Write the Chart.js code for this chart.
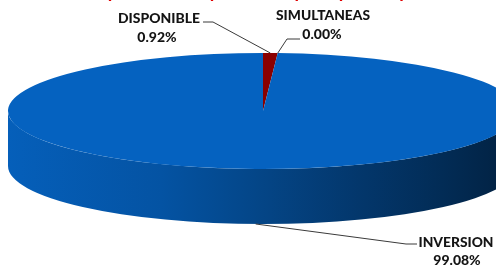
<!DOCTYPE html>
<html>
<head>
<meta charset="utf-8">
<script src="https://cdn.jsdelivr.net/npm/chart.js@4.4.1/dist/chart.umd.min.js"></script>
<style>
  html, body { margin: 0; padding: 0; background: #fff; overflow: hidden; }
  #wrap { width: 496px; height: 267px; position: relative; }
</style>
</head>
<body>
<div id="wrap"><canvas id="pie"></canvas></div>
<script>
// datos del grafico
const labels = ['DISPONIBLE', 'SIMULTANEAS', 'INVERSION'];
const values = [0.92, 0.00, 99.08];
const colors = ['#8a0000', '#8a0000', '#0562c0'];
const chartTitle = 'Composición del portafolio por tipo de operación';

// aspecto 3D
const faceY = 111;      // centro de la cara superior
const tilt = 58 / 255;  // aplastamiento vertical
const depth = 55;       // alto del costado

// posicion de las etiquetas: codo de la linea, texto
const labelPos = [
  { elbow: [213, 22], end: [203, 22], tx: 200, align: 'right', ty: 23, w: 82, px: 157, py: 42 },
  { elbow: [287, 39], end: [300, 39], tx: 323, align: 'center', ty: 20, w: 94, px: 322, py: 39 },
  { elbow: [406, 244], end: [417, 244], tx: 456, align: 'center', ty: 247, w: 75, px: 457, py: 265 }
];

function shade(hex, f) {
  const n = parseInt(hex.slice(1), 16);
  const r = Math.round(((n >> 16) & 255) * f);
  const g = Math.round(((n >> 8) & 255) * f);
  const b = Math.round((n & 255) * f);
  return `rgb(${r},${g},${b})`;
}

const pie3d = {
  id: 'pie3d',
  beforeDatasetsDraw(chart) {
    const ctx = chart.ctx;
    const arcs = chart.getDatasetMeta(0).data;
    const cx = arcs[0].x, cy = arcs[0].y, r = arcs[0].outerRadius;
    const ry = r * tilt;

    // costado: solo la mitad frontal (0..PI)
    arcs.forEach((arc, i) => {
      const s = Math.max(arc.startAngle, 0);
      const e = Math.min(arc.endAngle, Math.PI);
      if (e <= s) return;
      const grad = ctx.createLinearGradient(cx - r, 0, cx + r, 0);
      grad.addColorStop(0, shade(colors[i], 0.97));
      grad.addColorStop(0.3, shade(colors[i], 0.85));
      grad.addColorStop(0.5, shade(colors[i], 0.7));
      grad.addColorStop(0.7, shade(colors[i], 0.55));
      grad.addColorStop(0.85, shade(colors[i], 0.45));
      grad.addColorStop(1, shade(colors[i], 0.33));
      ctx.save();
      ctx.beginPath();
      ctx.ellipse(cx, faceY, r, ry, 0, s, e);
      ctx.ellipse(cx, faceY + depth, r, ry, 0, e, s, true);
      ctx.closePath();
      ctx.fillStyle = grad;
      ctx.fill();
      ctx.restore();
    });

    // cara superior aplastada
    ctx.save();
    ctx.translate(0, faceY);
    ctx.scale(1, tilt);
    ctx.translate(0, -cy);
  },
  afterDatasetsDraw(chart) {
    chart.ctx.restore();
  },
  afterDraw(chart) {
    const ctx = chart.ctx;
    const arcs = chart.getDatasetMeta(0).data;
    const cx = arcs[0].x, r = arcs[0].outerRadius;
    const ry = r * tilt;

    // titulo (cortado arriba)
    ctx.save();
    ctx.fillStyle = '#e00000';
    ctx.font = 'bold 20px Lato';
    ctx.textAlign = 'center';
    ctx.textBaseline = 'alphabetic';
    ctx.fillText(chartTitle, 270, -3, 400);
    ctx.restore();

    arcs.forEach((arc, i) => {
      const m = (arc.startAngle + arc.endAngle) / 2;
      let ax = cx + r * Math.cos(m);
      let ay = faceY + ry * Math.sin(m);
      if (Math.sin(m) > 0) ay += depth;
      const p = labelPos[i];

      ctx.save();
      ctx.strokeStyle = '#3a3a3a';
      ctx.lineWidth = 1;
      ctx.beginPath();
      ctx.moveTo(ax, ay);
      ctx.lineTo(p.elbow[0], p.elbow[1]);
      ctx.lineTo(p.end[0], p.end[1]);
      ctx.stroke();

      ctx.fillStyle = '#141414';
      ctx.font = '900 14px Lato';
      ctx.textBaseline = 'alphabetic';
      ctx.textAlign = p.align;
      ctx.fillText(labels[i], p.tx, p.ty, p.w);
      ctx.textAlign = 'center';
      ctx.fillText(values[i].toFixed(2) + '%', p.px, p.py);
      ctx.restore();
    });
  }
};

new Chart(document.getElementById('pie'), {
  type: 'pie',
  data: {
    labels: labels,
    datasets: [{
      data: values,
      backgroundColor: colors,
      borderWidth: 0,
      radius: 255,
      clip: false
    }]
  },
  options: {
    responsive: true,
    maintainAspectRatio: false,
    animation: false,
    layout: { padding: { left: 30 } },
    plugins: {
      legend: { display: false },
      tooltip: { enabled: false }
    }
  },
  plugins: [pie3d]
});
</script>
</body>
</html>
